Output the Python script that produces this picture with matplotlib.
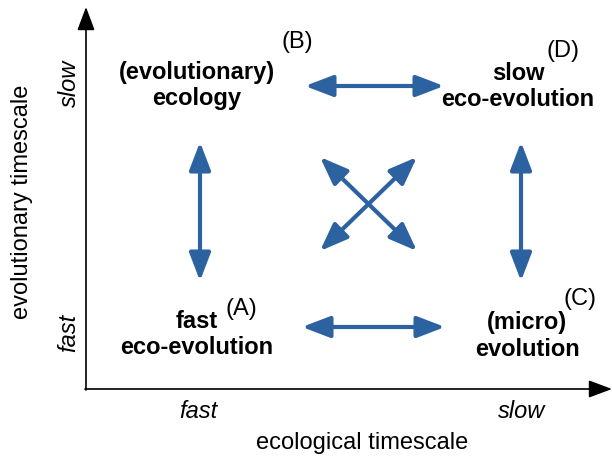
import matplotlib
matplotlib.use("Agg")
import matplotlib.pyplot as plt
from matplotlib.patches import FancyArrowPatch

plt.rcParams['font.family'] = ['Liberation Sans', 'DejaVu Sans']

# quadrant boxes: two text lines, centre x, first/second line y, letter and its position
box_line1 = ["(evolutionary)", "slow", "fast", "(micro)"]
box_line2 = ["ecology", "eco-evolution", "eco-evolution", "evolution"]
box_letter = ["(B)", "(D)", "(A)", "(C)"]
box_x = [197, 518, 197, 527]
box_y = [73, 73, 322, 323]
letter_x = [297, 563, 241, 580]
letter_y = [42, 51, 309, 299]
line_gap = 26

# double-headed arrows between the boxes (x0, y0, x1, y1)
arrows = [
    (305, 86, 444, 86),
    (302, 327, 445, 327),
    (200, 142, 200, 281),
    (521, 142, 521, 281),
    (320, 157, 417, 251),
    (417, 157, 320, 251),
]
blue = "#2c62a0"
fs = 17

fig = plt.figure(figsize=(6.12, 4.58), dpi=100)
ax = fig.add_axes([0, 0, 1, 1])
ax.set_xlim(0, 612)
ax.set_ylim(458, 0)
ax.axis("off")

# axes
ax.annotate("", xy=(86, 7), xytext=(86, 390),
            arrowprops=dict(arrowstyle="-|>,head_length=1.2,head_width=0.45",
                            color="black", lw=1.2, mutation_scale=12,
                            shrinkA=0, shrinkB=0))
ax.annotate("", xy=(612, 389), xytext=(85, 389),
            arrowprops=dict(arrowstyle="-|>,head_length=1.2,head_width=0.45",
                            color="black", lw=1.2, mutation_scale=12,
                            shrinkA=0, shrinkB=0))

ax.text(69, 83, "slow", rotation=90, style="italic", fontsize=fs,
        ha="center", va="center")
ax.text(69, 333, "fast", rotation=90, style="italic", fontsize=fs,
        ha="center", va="center")
ax.text(22, 202, "evolutionary timescale", rotation=90, fontsize=fs,
        ha="center", va="center")
ax.text(198, 411, "fast", style="italic", fontsize=fs, ha="center", va="center")
ax.text(522, 411, "slow", style="italic", fontsize=fs, ha="center", va="center")
ax.text(362, 443, "ecological timescale", fontsize=fs, ha="center", va="center")

for t1, t2, l, x, y, lx, ly in zip(box_line1, box_line2, box_letter, box_x, box_y,
                                   letter_x, letter_y):
    ax.text(x, y, t1, fontsize=fs, fontweight="bold", ha="center", va="center")
    ax.text(x, y + line_gap, t2, fontsize=fs, fontweight="bold", ha="center",
            va="center")
    ax.text(lx, ly, l, fontsize=fs, ha="center", va="center")

for x0, y0, x1, y1 in arrows:
    ax.add_patch(FancyArrowPatch((x0, y0), (x1, y1),
                                 arrowstyle="<|-|>,head_length=17,head_width=6.5",
                                 mutation_scale=1, color=blue, lw=3,
                                 shrinkA=0, shrinkB=0))

fig.savefig("out.png", dpi=100)
